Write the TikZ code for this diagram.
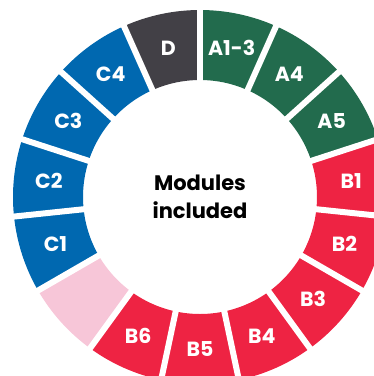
\documentclass[tikz,border=0pt]{standalone}
\usepackage{fontspec}
\setmainfont{Poppins}
\definecolor{modgreen}{HTML}{226B4D}
\definecolor{moddark}{HTML}{424046}
\definecolor{modblue}{HTML}{0068B0}
\definecolor{modred}{HTML}{EE2343}
\definecolor{modpink}{HTML}{F7C6D8}
\tikzset{
  seglabel/.style={text=white, font=\bfseries\fontsize{20.5}{20.5}\selectfont, inner sep=0pt},
  gapline/.style={draw=white, line width=6pt},
}
\begin{document}
\begin{tikzpicture}[x=1pt,y=1pt]
\useasboundingbox (0,0) rectangle (374,-376);
\clip (0,0) rectangle (374,-376);
\begin{scope}[shift={(200,-197)}]
\def\Ro{187}\def\Ri{117}\def\Rl{152}
\foreach \a/\col/\lab/\nm in {
  90/modgreen/A1-3/a13, 66/modgreen/A4/a4, 42/modgreen/A5/a5,
  18/modred/B1/b1, -6/modred/B2/b2, -30/modred/B3/b3, -54/modred/B4/b4,
  -78/modred/B5/b5, -102/modred/B6/b6, -126/modpink//blank,
  -150/modblue/C1/c1, -174/modblue/C2/c2, -198/modblue/C3/c3,
  -222/modblue/C4/c4, -246/moddark/D/d}{
  \pgfmathsetmacro\b{\a-24}
  \pgfmathsetmacro\m{\a-12}
  \fill[\col] (\a:\Ro) arc[start angle=\a, end angle=\b, radius=\Ro]
     -- (\b:\Ri) arc[start angle=\b, end angle=\a, radius=\Ri] -- cycle;
  \node[seglabel] (\nm) at (\m:\Rl) {\lab};
}
\foreach \a in {90,66,...,-246}{
  \draw[gapline] (\a:\Ri-2) -- (\a:\Ro+2);
}
\node[font=\bfseries\fontsize{21}{28}\selectfont, align=center, text=black] (title) at (0,0) {Modules\\included};
\end{scope}
\end{tikzpicture}
\end{document}
